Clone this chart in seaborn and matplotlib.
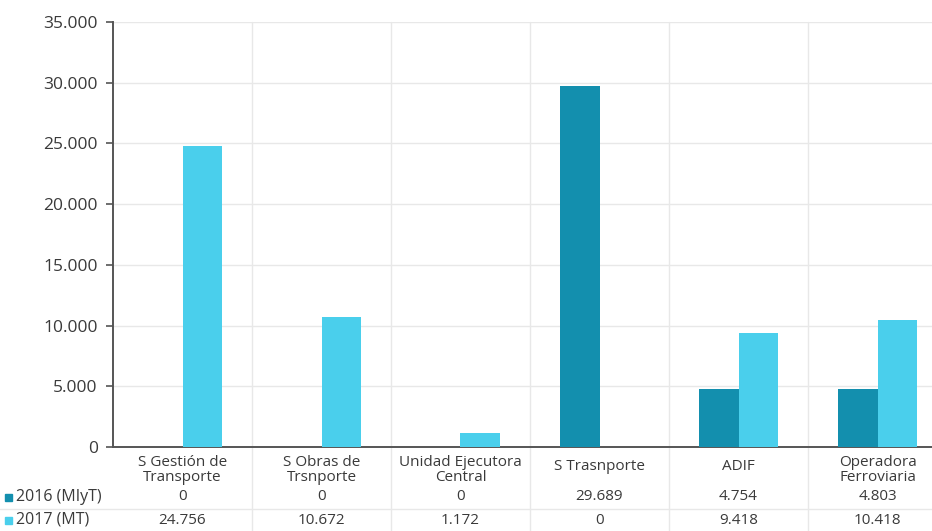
import matplotlib
matplotlib.use("Agg")
import matplotlib.pyplot as plt
import matplotlib.transforms as mtransforms
import seaborn as sns
import pandas as pd

# Budget by agency, two years
categories = ["S Gestión de\nTransporte", "S Obras de\nTrsnporte", "Unidad Ejecutora\nCentral",
              "S Trasnporte", "ADIF", "Operadora\nFerroviaria"]
series_names = ["2016 (MIyT)", "2017 (MT)"]
values_2016 = [0, 0, 0, 29689, 4754, 4803]
values_2017 = [24756, 10672, 1172, 0, 9418, 10418]
yticks = [0, 5000, 10000, 15000, 20000, 25000, 30000, 35000]

colors = ["#138FAE", "#4ACFEC"]
text_color = "#3A3A3A"
grid_color = "#E8E8E8"

df = pd.DataFrame({
    "cat": categories * 2,
    "serie": [series_names[0]] * len(categories) + [series_names[1]] * len(categories),
    "val": values_2016 + values_2017,
})

sns.set_theme(style="white")
plt.rcParams["font.family"] = ["Open Sans", "DejaVu Sans"]

W, H = 932, 531
fig = plt.figure(figsize=(W / 100, H / 100), dpi=100)
left, right, top, bottom = 113, 947, 22, 447
ax = fig.add_axes([left / W, 1 - bottom / H, (right - left) / W, (bottom - top) / H])

sns.barplot(data=df, x="cat", y="val", hue="serie", order=categories,
            hue_order=series_names, palette=colors, width=0.575, gap=0,
            saturation=1, legend=False, ax=ax, zorder=3, edgecolor="none")

ax.set_xlim(-0.5, len(categories) - 0.5)
ax.set_ylim(0, 35000)
ax.set_yticks(yticks)
ax.set_yticklabels([f"{v:,}".replace(",", ".") for v in yticks], fontsize=12.5, color=text_color)
ax.set_xticks([])
ax.set_xlabel("")
ax.set_ylabel("")

for s in ["top", "right"]:
    ax.spines[s].set_visible(False)
for s in ["left", "bottom"]:
    ax.spines[s].set_color("#555555")
    ax.spines[s].set_linewidth(1.4)
ax.tick_params(axis="y", length=5, width=1.2, color="#555555", pad=6, left=True)

# horizontal grid
for v in yticks[1:]:
    ax.axhline(v, color=grid_color, lw=1, zorder=0)

# vertical separators, running down through the data table
blend = mtransforms.blended_transform_factory(ax.transData, fig.transFigure)
for i in range(len(categories)):
    x = i + 0.5
    ax.plot([x, x], [0, 1 - top / H], transform=blend, color=grid_color, lw=1,
            zorder=0, clip_on=False)

# data table below the axis
def fy(px):
    return 1 - px / H

for i, c in enumerate(categories):
    yc = 470 if "\n" in c else 466
    ax.text(i, fy(yc), c, transform=blend, ha="center", va="center",
            fontsize=11, color=text_color, linespacing=1.0)
    for vals, ypx in ((values_2016, 497), (values_2017, 520)):
        ax.text(i, fy(ypx), f"{vals[i]:,}".replace(",", "."), transform=blend,
                ha="center", va="center", fontsize=11, color=text_color)

# row separator
fig.add_artist(plt.Line2D([0, 1], [fy(509), fy(509)], transform=fig.transFigure,
                          color=grid_color, lw=1))

# row headers with legend keys
for name, col, ypx in ((series_names[0], colors[0], 497), (series_names[1], colors[1], 520)):
    fig.add_artist(plt.Rectangle((5 / W, fy(ypx) - 3.5 / H), 7 / W, 7 / H,
                                 transform=fig.transFigure, color=col))
    fig.text(16 / W, fy(ypx), name, ha="left", va="center", fontsize=11.5, color=text_color)

fig.savefig("out.png", dpi=100, facecolor="white")
